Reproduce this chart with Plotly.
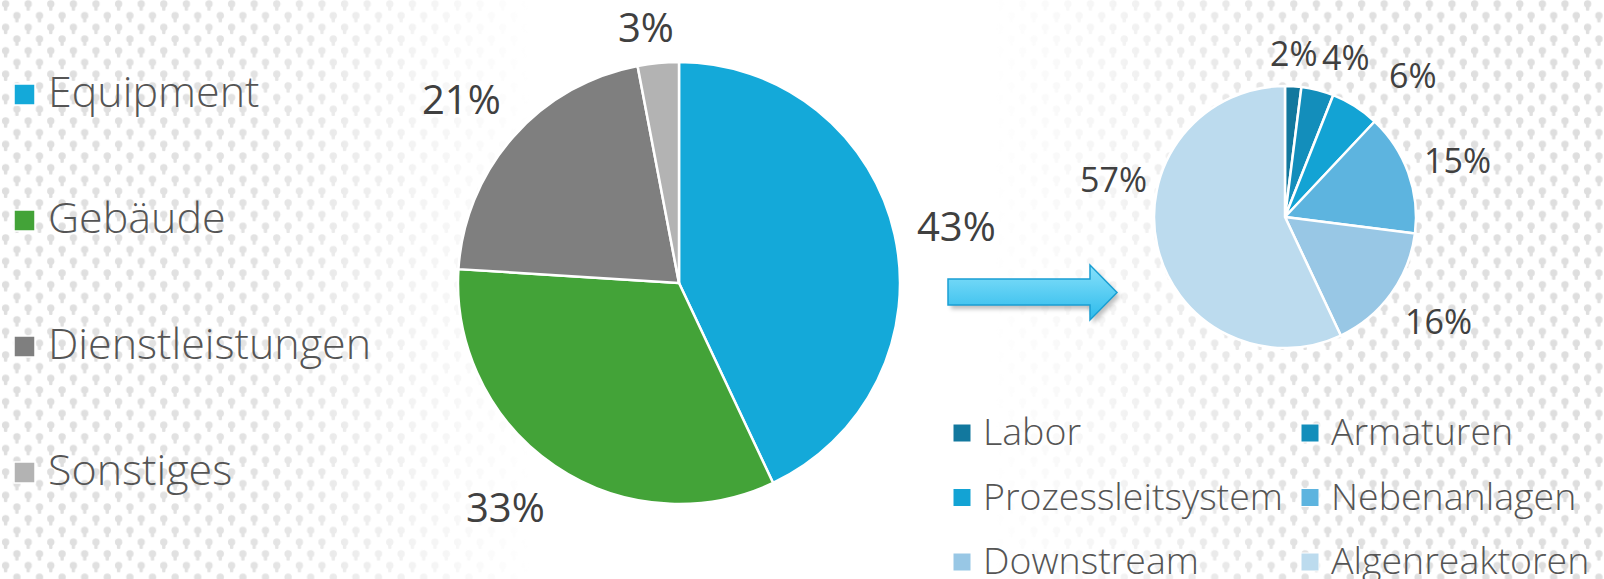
import math
import base64
import plotly.graph_objects as go

W, H = 1604, 579

# ---------------- data ----------------
main_labels = ["Equipment", "Gebäude", "Dienstleistungen", "Sonstiges"]
main_values = [43, 33, 21, 3]
main_colors = ["#14A9D9", "#43A338", "#7F7F7F", "#B3B3B3"]

sub_labels = ["Labor", "Armaturen", "Prozessleitsystem",
              "Nebenanlagen", "Downstream", "Algenreaktoren"]
sub_values = [2, 4, 6, 15, 16, 57]
sub_colors = ["#12789E", "#138EBB", "#13A3D4", "#5DB4DF", "#98C7E5", "#BCDBEE"]

# ---------------- layout helpers ----------------
def px(x):
    return x / W


def py(y):
    return 1 - y / H


MAIN_C, MAIN_R = (679, 283), 221
SUB_C, SUB_R = (1285, 217), 131

FAM = "Open Sans, sans-serif"
LEFT_FONT = dict(family=FAM, size=43, color="#555555", weight=300)
MAIN_LBL_FONT = dict(family=FAM, size=40, color="#404040")
SUB_LBL_FONT = dict(family=FAM, size=34, color="#404040")
SUB_LEG_FONT = dict(family=FAM, size=37.5, color="#555555", weight=300)

# extra label offsets (px) where the original chart moved a label off its radial spot
LABEL_NUDGE = {"Equipment": (7, -6), "Sonstiges": (-11, 7),
               "Prozessleitsystem": (28, 0), "Nebenanlagen": (6, -10),
               "Downstream": (6, -3), "Algenreaktoren": (0, -68)}


def domain(c, r):
    return dict(x=[px(c[0] - r), px(c[0] + r)], y=[py(c[1] + r), py(c[1] - r)])


def slice_labels(labels, values, c, r, gap, font):
    total = sum(values)
    cum = 0
    anns = []
    for lab, v in zip(labels, values):
        mid = (cum + v / 2) / total * 2 * math.pi
        cum += v
        ux, uy = math.sin(mid), math.cos(mid)
        nx, ny = LABEL_NUDGE.get(lab, (0, 0))
        x = c[0] + (r + gap) * ux + nx
        y = c[1] - (r + gap) * uy + ny
        xa = "left" if ux > 0.2 else ("right" if ux < -0.2 else "center")
        ya = "bottom" if uy > 0.4 else ("top" if uy < -0.4 else "middle")
        anns.append(dict(x=px(x), y=py(y), xref="paper", yref="paper",
                         text=f"{v}%", showarrow=False, xanchor=xa, yanchor=ya,
                         font=font))
    return anns


fig = go.Figure()

fig.add_trace(go.Pie(
    labels=main_labels, values=main_values, sort=False, direction="clockwise",
    rotation=0, textinfo="none", hoverinfo="label+percent", showlegend=False,
    marker=dict(colors=main_colors, line=dict(color="white", width=2.5)),
    domain=domain(MAIN_C, MAIN_R),
))
fig.add_trace(go.Pie(
    labels=sub_labels, values=sub_values, sort=False, direction="clockwise",
    rotation=0, textinfo="none", hoverinfo="label+percent", showlegend=False,
    marker=dict(colors=sub_colors, line=dict(color="white", width=2.5)),
    domain=domain(SUB_C, SUB_R),
))

annotations = []
annotations += slice_labels(main_labels, main_values, MAIN_C, MAIN_R, 14, MAIN_LBL_FONT)
annotations += slice_labels(sub_labels, sub_values, SUB_C, SUB_R, 8, SUB_LBL_FONT)

shapes = []
# left legend (manual, vertical)
for i, (lab, col) in enumerate(zip(main_labels, main_colors)):
    cy = 94.5 + i * 126
    shapes.append(dict(type="rect", xref="paper", yref="paper",
                       x0=px(14), x1=px(35), y0=py(cy + 10.5), y1=py(cy - 10.5),
                       fillcolor=col, line=dict(color="white", width=1.5)))
    annotations.append(dict(x=px(46), y=py(cy - 4.5), xref="paper", yref="paper",
                            text=lab, showarrow=False, xanchor="left",
                            yanchor="middle", font=LEFT_FONT))

# right legend (manual, two columns)
for i, (lab, col) in enumerate(zip(sub_labels, sub_colors)):
    row, colm = divmod(i, 2)
    cy = 433 + row * 64.5
    sx = 953 if colm == 0 else 1301
    shapes.append(dict(type="rect", xref="paper", yref="paper",
                       x0=px(sx), x1=px(sx + 18), y0=py(cy + 9), y1=py(cy - 9),
                       fillcolor=col, line=dict(color="white", width=1)))
    annotations.append(dict(x=px(sx + 28), y=py(cy - 2.5), xref="paper", yref="paper",
                            text=lab, showarrow=False, xanchor="left",
                            yanchor="middle", font=SUB_LEG_FONT))

# ---------------- background texture + arrow (decorative SVG) ----------------
def bulb(x, y):
    return (f'<circle cx="{x}" cy="{y}" r="3.7"/>'
            f'<rect x="{x-1.7}" y="{y+2}" width="3.4" height="4.8" rx="1"/>')


ARROW = "M948,279 L1090,279 L1090,265 L1117,292.5 L1090,320 L1090,305 L948,305 Z"

svg = f'''<svg xmlns="http://www.w3.org/2000/svg" width="{W}" height="{H}" viewBox="0 0 {W} {H}">
<defs>
<pattern id="p" width="22.6" height="23.4" patternUnits="userSpaceOnUse">
<g fill="#dedede">{bulb(5.6, 4)}{bulb(16.9, 15.7)}{bulb(16.9, -7.7)}</g>
</pattern>
<linearGradient id="fade" x1="0" x2="1" y1="0" y2="0">
<stop offset="0" stop-color="#fff"/>
<stop offset="0.16" stop-color="#ddd"/>
<stop offset="0.33" stop-color="#000"/>
<stop offset="0.62" stop-color="#000"/>
<stop offset="0.82" stop-color="#eee"/>
<stop offset="1" stop-color="#fff"/>
</linearGradient>
<mask id="m"><rect width="{W}" height="{H}" fill="url(#fade)"/></mask>
<filter id="b"><feGaussianBlur stdDeviation="0.7"/></filter>
<filter id="s"><feGaussianBlur stdDeviation="2"/></filter>
<linearGradient id="ag" x1="0" y1="0" x2="0" y2="1">
<stop offset="0" stop-color="#88E1FB"/>
<stop offset="1" stop-color="#2CBAEB"/>
</linearGradient>
</defs>
<rect width="{W}" height="{H}" fill="#ffffff"/>
<rect width="{W}" height="{H}" fill="url(#p)" mask="url(#m)" filter="url(#b)"/>
<path d="{ARROW}" transform="translate(3,4)" fill="#000" fill-opacity="0.25" filter="url(#s)"/>
<path d="{ARROW}" fill="url(#ag)" stroke="#1A9FD3" stroke-width="1.5"/>
</svg>'''

src = "data:image/svg+xml;base64," + base64.b64encode(svg.encode("utf-8")).decode("ascii")

fig.update_layout(
    width=W, height=H, margin=dict(l=0, r=0, t=0, b=0),
    paper_bgcolor="white", plot_bgcolor="white",
    annotations=annotations, shapes=shapes,
    images=[dict(source=src, xref="paper", yref="paper", x=0, y=1,
                 sizex=1, sizey=1, xanchor="left", yanchor="top",
                 sizing="stretch", layer="below")],
    showlegend=False,
)

fig.write_html("out.html", config={"displayModeBar": False},
               post_script="document.body.style.margin='0';document.body.style.overflow='hidden';")
